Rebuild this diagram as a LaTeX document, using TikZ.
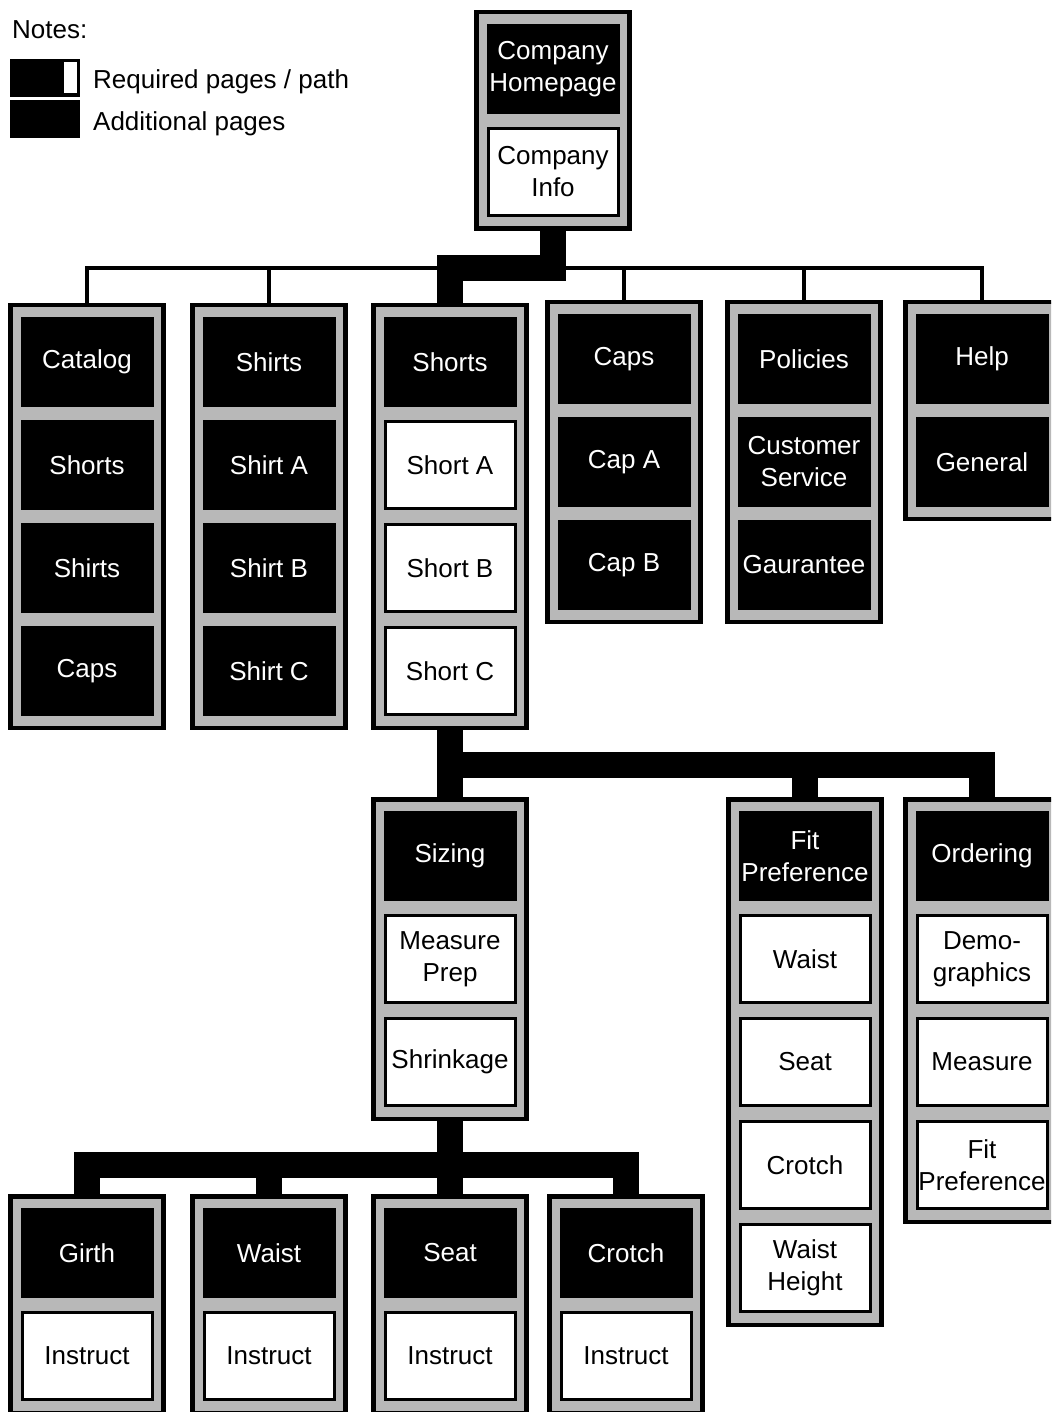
\documentclass[tikz,border=0pt]{standalone}
\usepackage{fontspec}
\setmainfont{Liberation Sans}
\usetikzlibrary{calc}

\definecolor{framegray}{gray}{0.72}
\newcommand\pagetext{\fontsize{26}{32}\selectfont}

\tikzset{
  colframe/.style={draw=black, line width=4.5pt, fill=framegray, rectangle,
    inner sep=0pt, outer sep=0pt, minimum width=153pt,
    minimum height={10.5pt+#1*103pt}},
  darkpage/.style={fill=black, text=white, rectangle, inner sep=0pt, outer sep=0pt,
    minimum width=133pt, minimum height=90pt, align=center, font=\pagetext},
  lightpage/.style={fill=white, draw=black, line width=3pt, text=black, rectangle,
    inner sep=0pt, outer sep=0pt, minimum width=130pt, minimum height=87pt,
    align=center, font=\pagetext},
  trunk/.style={draw=black, line width=26pt, line join=miter, line cap=butt},
  branch/.style={draw=black, line width=4.5pt, line join=miter},
  keytext/.style={anchor=base west, inner sep=0pt, font=\pagetext},
  keybox/.style={fill=black, rectangle, inner sep=0pt, outer sep=0pt,
    minimum width=70pt, minimum height=38pt},
}

% column frame: name, centre x, top y, number of pages
\newcommand\pagecolumn[4]{\node[colframe=#4, anchor=north] (#1) at (#2,#3+2.25) {};}

\begin{document}
\begin{tikzpicture}[x=1pt, y=-1pt]
\fill[white] (0,0) rectangle (1051,1412);
\useasboundingbox (0,0) rectangle (1051,1412);
\clip (0,0) rectangle (1051,1412);

% ---- legend ----
\node[keytext] (notes) at (12,39) {Notes:};
\node[keybox] (reqkey) at (45,78) {};
\node[fill=white, rectangle, inner sep=0pt, minimum width=13pt, minimum height=31pt] (reqmark) at (70.5,77.5) {};
\node[keytext] (reqlabel) at (93,89) {Required pages / path};
\node[keybox] (addkey) at (45,119) {};
\node[keytext] (addlabel) at (93,131) {Additional pages};

% ---- home ----
\pagecolumn{home}{553}{10}{2}
\node[darkpage]  (home-1) at (553,69)  {Company\\Homepage};
\node[lightpage] (home-2) at (553,172) {Company\\Info};

% ---- first level ----
\pagecolumn{cat}{87}{303}{4}
\node[darkpage] (cat-1) at (87,362) {Catalog};
\node[darkpage] (cat-2) at (87,465) {Shorts};
\node[darkpage] (cat-3) at (87,568) {Shirts};
\node[darkpage] (cat-4) at (87,671) {Caps};

\pagecolumn{shirts}{269}{303}{4}
\node[darkpage] (shirts-1) at (269,362) {Shirts};
\node[darkpage] (shirts-2) at (269,465) {Shirt A};
\node[darkpage] (shirts-3) at (269,568) {Shirt B};
\node[darkpage] (shirts-4) at (269,671) {Shirt C};

\pagecolumn{shorts}{450}{303}{4}
\node[darkpage]  (shorts-1) at (450,362) {Shorts};
\node[lightpage] (shorts-2) at (450,465) {Short A};
\node[lightpage] (shorts-3) at (450,568) {Short B};
\node[lightpage] (shorts-4) at (450,671) {Short C};

\pagecolumn{caps}{624}{300}{3}
\node[darkpage] (caps-1) at (624,359) {Caps};
\node[darkpage] (caps-2) at (624,462) {Cap A};
\node[darkpage] (caps-3) at (624,565) {Cap B};

\pagecolumn{pol}{804}{300}{3}
\node[darkpage] (pol-1) at (804,359) {Policies};
\node[darkpage] (pol-2) at (804,462) {Customer\\Service};
\node[darkpage] (pol-3) at (804,565) {Gaurantee};

\pagecolumn{help}{982}{300}{2}
\node[darkpage] (help-1) at (982,359) {Help};
\node[darkpage] (help-2) at (982,462) {General};

% ---- second level ----
\pagecolumn{sizing}{450}{797}{3}
\node[darkpage]  (sizing-1) at (450,856)  {Sizing};
\node[lightpage] (sizing-2) at (450,959)  {Measure\\Prep};
\node[lightpage] (sizing-3) at (450,1062) {Shrinkage};

\pagecolumn{fit}{805}{797}{5}
\node[darkpage]  (fit-1) at (805,856)  {Fit\\Preference};
\node[lightpage] (fit-2) at (805,959)  {Waist};
\node[lightpage] (fit-3) at (805,1062) {Seat};
\node[lightpage] (fit-4) at (805,1165) {Crotch};
\node[lightpage] (fit-5) at (805,1268) {Waist\\Height};

\pagecolumn{order}{982}{797}{4}
\node[darkpage]  (order-1) at (982,856)  {Ordering};
\node[lightpage] (order-2) at (982,959)  {Demo-\\graphics};
\node[lightpage] (order-3) at (982,1062) {Measure};
\node[lightpage] (order-4) at (982,1165) {Fit\\Preference};

% ---- third level ----
\pagecolumn{girth}{87}{1194}{2}
\node[darkpage]  (girth-1) at (87,1253) {Girth};
\node[lightpage] (girth-2) at (87,1356) {Instruct};

\pagecolumn{waist}{269}{1194}{2}
\node[darkpage]  (waist-1) at (269,1253) {Waist};
\node[lightpage] (waist-2) at (269,1356) {Instruct};

\pagecolumn{seat}{450}{1194}{2}
\node[darkpage]  (seat-1) at (450,1253) {Seat};
\node[lightpage] (seat-2) at (450,1356) {Instruct};

\pagecolumn{crotch}{626}{1194}{2}
\node[darkpage]  (crotch-1) at (626,1253) {Crotch};
\node[lightpage] (crotch-2) at (626,1356) {Instruct};

% ---- connectors ----
\coordinate (busA) at (553,268);
\coordinate (busB) at (450,765);
\coordinate (busC) at (450,1165);

% thin bus for the additional pages
\draw[branch] (cat.north) |- (busA) -| (help.north);
\draw[branch] (shirts.north) -- (shirts.north |- busA);
\draw[branch] (caps.north) -- (caps.north |- busA);
\draw[branch] (pol.north) -- (pol.north |- busA);

% thick required path
\draw[trunk] (home.south) -- (home.south |- busA) -| (shorts.north);
\draw[trunk] (shorts.south) -- (sizing.north);
\draw[trunk] (shorts.south |- busB) -| (order.north);
\draw[trunk] (fit.north) -- (fit.north |- busB);
\draw[trunk] (sizing.south) -- (seat.north);
\draw[trunk] (girth.north) |- (busC) -| (crotch.north);
\draw[trunk] (waist.north) -- (waist.north |- busC);
\end{tikzpicture}
\end{document}
